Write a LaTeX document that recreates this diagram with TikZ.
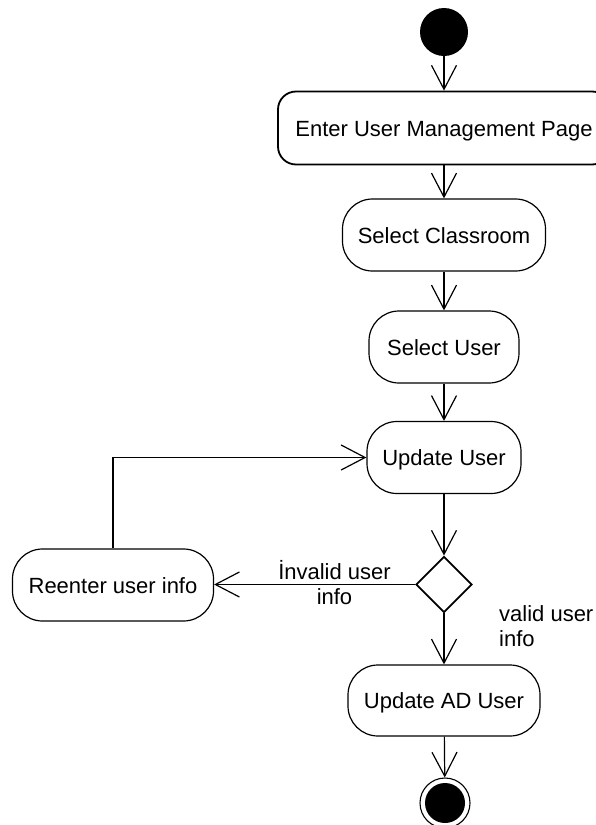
\documentclass[tikz,border=0pt]{standalone}
\usepackage{fontspec}
\setmainfont{Liberation Sans}
\usetikzlibrary{arrows.meta,shapes.geometric}
\begin{document}
\begin{tikzpicture}[x=1pt,y=-1pt,
  txt/.style={font=\fontsize{22}{25.5}\selectfont},
  act/.style={txt, draw, line width=1.2pt, rounded corners=30pt, minimum height=72pt, inner sep=0pt, text height=16pt, text depth=0pt},
  flow/.style={line width=1.2pt, -{Straight Barb[length=24pt,width=25pt,line width=1.2pt]}},
  lbl/.style={txt, inner sep=0pt}]
\useasboundingbox (0,0) rectangle (595,825);
\node[circle, fill, minimum size=48pt, inner sep=0pt] (start) at (444,32) {};
\node[act, line width=1.8pt, rounded corners=18pt, minimum width=332pt, minimum height=73pt] (enter) at (444,128) {Enter User Management Page};
\node[act, minimum width=203pt] (cls) at (444,235) {Select Classroom};
\node[act, minimum width=150pt] (sel) at (444,347) {Select User};
\node[act, minimum width=154pt] (upd) at (444,457.5) {Update User};
\node[diamond, draw, line width=1.8pt, shape aspect=1, minimum size=56pt, inner sep=0pt] (dec) at (444,584.5) {};
\node[act, minimum width=201pt] (re) at (113,585) {Reenter user info};
\node[act, minimum width=192pt, minimum height=71pt] (ad) at (444,700.5) {Update AD User};
\node[circle, draw, line width=1.1pt, minimum size=50pt, inner sep=0pt] (end) at (445,803) {};
\fill (end.center) circle[radius=20pt];
\draw[flow] (start) -- (enter);
\draw[flow] (enter) -- (cls);
\draw[flow] (cls) -- (sel);
\draw[flow] (sel) -- (upd);
\draw[flow] (upd) -- (dec);
\draw[flow] (dec) -- (ad);
\draw[flow] (ad) -- (end);
\draw[flow] (dec.west) -- (re.east |- dec.west);
\draw[flow] (re.north) |- (upd.west);
\node[lbl, align=center] (l1) at (334.5,582.5) {İnvalid user\\info};
\node[lbl, align=left, anchor=west] (l2) at (499,626) {valid user\\info};
\end{tikzpicture}
\end{document}
